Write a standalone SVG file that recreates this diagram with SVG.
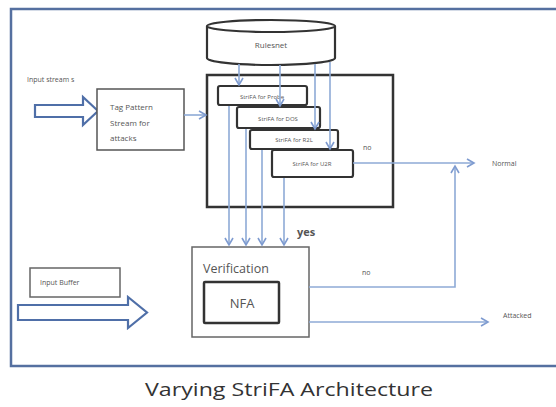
<svg xmlns="http://www.w3.org/2000/svg" width="556" height="407" viewBox="0 0 556 407">
<defs>
<style>
.lbl{font-family:"Open Sans","Liberation Sans",sans-serif;fill:#555}
.con{fill:none;stroke:#8eaad6;stroke-width:1.6}
.thick{fill:#fff;stroke:#333;stroke-width:2.2}
.hollow{fill:#fff;stroke:#4f6fa8;stroke-width:2.2;stroke-linejoin:miter}
</style>
<marker id="ah" markerWidth="10" markerHeight="10" refX="8" refY="5" orient="auto" markerUnits="userSpaceOnUse">
<path d="M1,1 L8,5 L1,9" fill="none" stroke="#7e9bd0" stroke-width="1.6"/>
</marker>
</defs>
<rect width="556" height="407" fill="#fff"/>
<g id="frame">
<rect x="11" y="9" width="560" height="357" fill="none" stroke="#5570a0" stroke-width="2.5"/>
</g>
<g id="rulesnet">
<path d="M207,26 L207,58 A64,7 0 0 0 335,58 L335,26" fill="#fff" stroke="#333" stroke-width="2.2"/>
<ellipse cx="271" cy="26" rx="64" ry="6" fill="#fff" stroke="#333" stroke-width="2.2"/>
<text class="lbl" x="271" y="48" font-size="8" text-anchor="middle">Rulesnet</text>
</g>
<g id="strifa-container">
<rect x="207" y="75" width="186" height="132" fill="#fff" stroke="#333" stroke-width="2.5"/>
</g>
<g id="strifa-probe">
<rect class="thick" x="218" y="86" width="89" height="19" rx="2"/>
<text class="lbl" x="262" y="99" font-size="6" text-anchor="middle">StriFA for Probe</text>
</g>
<g id="strifa-dos">
<rect class="thick" x="237" y="107" width="83" height="21" rx="2"/>
<text class="lbl" x="278" y="121" font-size="6" text-anchor="middle">StriFA for DOS</text>
</g>
<g id="strifa-r2l">
<rect class="thick" x="250" y="130" width="88" height="19" rx="2"/>
<text class="lbl" x="294" y="142" font-size="6" text-anchor="middle">StriFA for R2L</text>
</g>
<g id="strifa-u2r">
<rect class="thick" x="272" y="150" width="81" height="27" rx="2"/>
<text class="lbl" x="312" y="166" font-size="6" text-anchor="middle">StriFA for U2R</text>
</g>
<g id="input-stream">
<text class="lbl" x="27" y="82" font-size="7">Input stream s</text>
<path class="hollow" d="M35,105 L83,105 L83,97 L98,111 L83,125 L83,117 L35,117 Z"/>
</g>
<g id="tag-pattern">
<rect x="97" y="89" width="87" height="61" fill="#fff" stroke="#555" stroke-width="1.5"/>
<text class="lbl" x="110" y="110" font-size="8">Tag Pattern</text>
<text class="lbl" x="110" y="126" font-size="8">Stream for</text>
<text class="lbl" x="110" y="141" font-size="8">attacks</text>
</g>
<g id="input-buffer">
<rect x="30" y="268" width="90" height="29" fill="#fff" stroke="#666" stroke-width="1.5"/>
<text class="lbl" x="40" y="285" font-size="7">Input Buffer</text>
<path class="hollow" d="M18,305 L128,305 L128,297 L147,312.5 L128,328 L128,320 L18,320 Z"/>
</g>
<g id="verification">
<rect x="192" y="247" width="117" height="90" fill="#fff" stroke="#666" stroke-width="1.5"/>
<text class="lbl" x="203" y="273" font-size="12.5" fill="#444">Verification</text>
</g>
<g id="nfa">
<rect x="204" y="282" width="75" height="41" fill="#fff" stroke="#333" stroke-width="2.5" rx="1"/>
<text class="lbl" x="242" y="308" font-size="13" text-anchor="middle" fill="#444">NFA</text>
</g>
<g id="connectors">
<path class="con" d="M184,115 L206,115" marker-end="url(#ah)"/>
<path class="con" d="M239,64 L239,85" marker-end="url(#ah)"/>
<path class="con" d="M280,65 L280,106" marker-end="url(#ah)"/>
<path class="con" d="M315,64 L315,129" marker-end="url(#ah)"/>
<path class="con" d="M330,62 L330,149" marker-end="url(#ah)"/>
<path class="con" d="M229,106 L229,245" marker-end="url(#ah)"/>
<path class="con" d="M246,129 L246,245" marker-end="url(#ah)"/>
<path class="con" d="M262,150 L262,245" marker-end="url(#ah)"/>
<path class="con" d="M284,178 L284,245" marker-end="url(#ah)"/>
<path class="con" d="M353,163 L474,163" marker-end="url(#ah)"/>
<path class="con" d="M309,287 L455,287 L455,166" marker-end="url(#ah)"/>
<path class="con" d="M309,322 L488,322" marker-end="url(#ah)"/>
</g>
<g id="labels">
<text class="lbl" x="363" y="150" font-size="7">no</text>
<text class="lbl" x="492" y="166" font-size="7">Normal</text>
<text class="lbl" x="297" y="236" font-size="11" font-weight="bold" fill="#444">yes</text>
<text class="lbl" x="362" y="275" font-size="7">no</text>
<text class="lbl" x="503" y="318" font-size="7">Attacked</text>
</g>
<text x="289" y="396" font-family="Open Sans,Liberation Sans,sans-serif" font-size="19" fill="#333" text-anchor="middle" textLength="288" lengthAdjust="spacingAndGlyphs">Varying StriFA Architecture</text>
</svg>
